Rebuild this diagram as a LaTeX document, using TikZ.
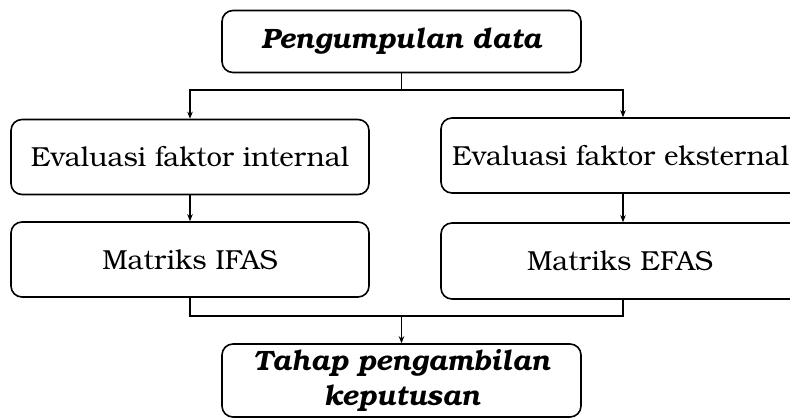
\documentclass[tikz,border=0pt]{standalone}
\usepackage{fontspec}
\setmainfont{texgyrebonum}[Extension=.otf, UprightFont=*-regular, BoldFont=*-bold, ItalicFont=*-italic, BoldItalicFont=*-bolditalic]
\usetikzlibrary{arrows.meta}
\begin{document}
\begin{tikzpicture}[x=1pt,y=-1pt,
  txt/.style={font=\fontsize{27.5}{34}\selectfont},
  box/.style={draw, line width=1.6pt, rounded corners=11pt, minimum width=359pt, inner sep=0pt, align=center, txt},
  hbox/.style={box, font=\fontsize{28}{35}\selectfont\bfseries\itshape},
  arr/.style={line width=1.4pt, -{Stealth[length=7pt,width=5.5pt]}},
  ln/.style={line width=1.4pt}]
\useasboundingbox (0,0) rectangle (790,419);
\node[hbox, minimum height=62pt] (top) at (401.5,41.5) {Pengumpulan data};
\node[box, minimum width=358pt, minimum height=75pt] (ei) at (190,157) {Evaluasi faktor internal};
\node[box, minimum width=358pt, minimum height=75pt] (mi) at (190,259.5) {Matriks IFAS};
\node[box, minimum width=364pt, minimum height=75pt] (ee) at (623,155.5) {};
\node[anchor=west, txt, inner sep=0pt] (eet) at (452,155.5) {Evaluasi faktor eksternal};
\node[box, minimum width=364pt, minimum height=76pt] (me) at (623,261) {};
\node[txt, inner sep=0pt] (met) at (620,261) {Matriks EFAS};
\node[hbox, minimum height=73pt] (bot) at (401.5,380.5) {Tahap pengambilan\\keputusan};
\coordinate (j1) at (401.5,90);
\coordinate (j2) at (401.5,316);
\draw[ln] (top.south) -- (j1);
\draw[arr] (j1) -| (ei.north);
\draw[arr] (j1) -| (ee.north);
\draw[arr] (ei.south) -- (mi.north);
\draw[arr] (ee.south) -- (me.north);
\draw[ln] (mi.south) |- (j2);
\draw[ln] (me.south) |- (j2);
\draw[arr] (j2) -- (bot.north);
\end{tikzpicture}
\end{document}
